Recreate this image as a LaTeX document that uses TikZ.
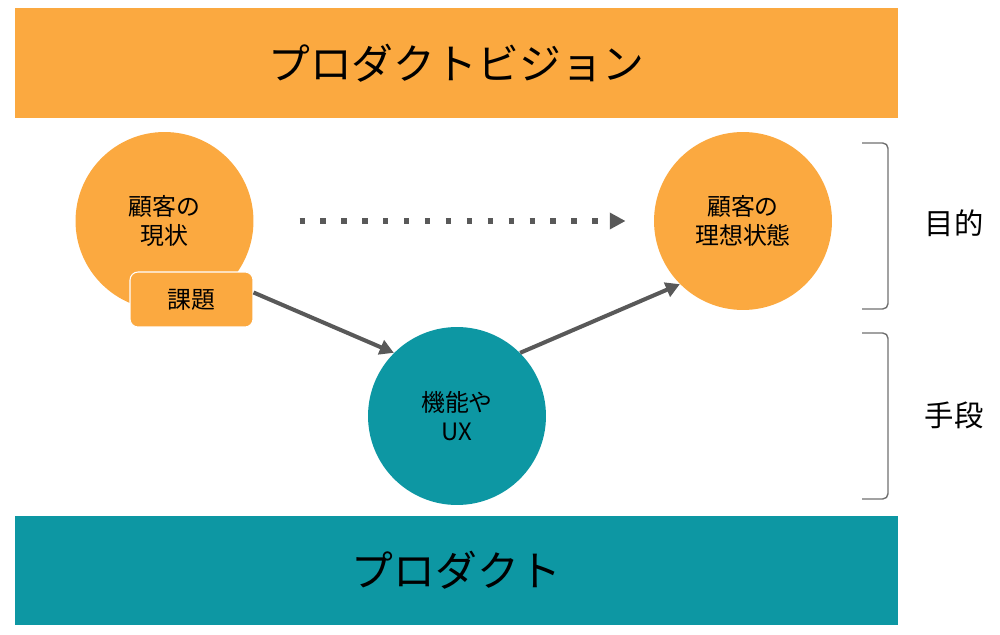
\documentclass[tikz,border=0pt]{standalone}
\usepackage{fontspec}
\setmainfont{Noto Sans CJK JP}
\usetikzlibrary{arrows.meta,positioning}
\definecolor{vorange}{HTML}{FBA940}
\definecolor{pteal}{HTML}{0D97A3}
\definecolor{arrowgray}{HTML}{595959}
\definecolor{bracegray}{HTML}{707070}

\begin{document}
\begin{tikzpicture}[x=0.02cm, y=-0.02cm,
band/.style={minimum width=17.66cm, minimum height=2.2cm, inner sep=0pt,
  font=\fontsize{23.8}{28}\selectfont},
state/.style={circle, minimum size=3.56cm, inner sep=0pt, align=center,
  font=\fontsize{13.6}{16.4}\selectfont},
tag/.style={rectangle, rounded corners=0.16cm, fill=vorange, draw=white,
  line width=0.6pt, minimum width=2.46cm, minimum height=1.1cm,
  font=\fontsize{13.6}{16.4}\selectfont},
flow/.style={draw=arrowgray, line width=2.3pt,
  -{Triangle[length=8pt,width=8.5pt]}},
wish/.style={draw=arrowgray, line width=3pt, dash pattern=on 3pt off 8.9pt,
  -{Triangle[length=9pt,width=9pt]}},
brace/.style={draw=bracegray, line width=0.8pt, rounded corners=3pt},
side/.style={font=\fontsize{16.7}{20}\selectfont}]
\useasboundingbox (0,0) rectangle (1000,635);

% bands
\node [band, fill=vorange] (vision) at (456.5,63) {プロダクトビジョン};
\node [band, fill=pteal] (product) at (456.5,570.5) {プロダクト};

% states
\node [state, fill=vorange] (current) at (164.5,221) {顧客の\\現状};
\node [tag] (kadai) at (191.5,299.5) {課題};
\node [state, fill=vorange] (ideal) at (743,221) {顧客の\\理想状態};
\node [state, fill=pteal] (ux) at (457,416) {機能や\\UX};

% arrows
\path [wish, shorten <=26pt, shorten >=16pt] (current.east) -- (ideal.west);
\path [flow] ([yshift=4pt]kadai.east) -- (ux.135);
\path [flow] (ux.45) -- (ideal.225);

% brackets
\coordinate (b1t) at (862,143);
\coordinate (b1b) at (862,309);
\coordinate (b2t) at (862,333);
\coordinate (b2b) at (862,499);
\draw [brace] (b1t) -- ++(26,0) -- ++(0,166) -- (b1b);
\draw [brace] (b2t) -- ++(26,0) -- ++(0,166) -- (b2b);
\node [side] (mokuteki) at (954,223) {目的};
\node [side] (shudan) at (954,415) {手段};
\end{tikzpicture}
\end{document}
